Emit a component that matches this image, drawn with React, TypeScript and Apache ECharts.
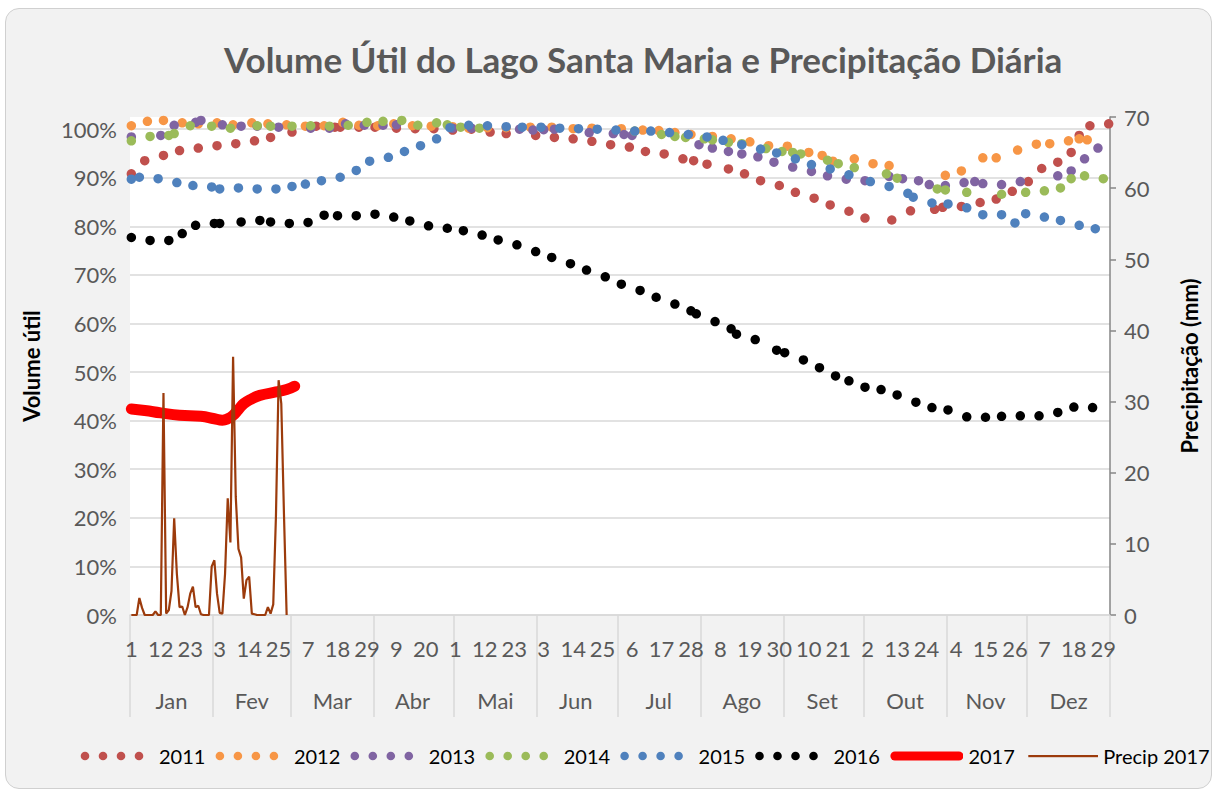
import React, { useEffect, useRef } from "react";
import * as echarts from "echarts";

const MONTHS = ["Jan", "Fev", "Mar", "Abr", "Mai", "Jun", "Jul", "Ago", "Set", "Out", "Nov", "Dez"];
const MONTH_DAYS = [31, 29, 31, 30, 31, 30, 31, 31, 30, 31, 30, 31];

// [day index (0 = 1 Jan), volume %]
const v2011: [number, number][] = [
  [0, 90.8], [5, 93.5], [12, 94.6], [18, 95.6], [25, 96.1], [32, 96.6], [39, 97.0], [46, 97.6], [52, 98.3],
  [60, 99.4], [69, 100.6], [76, 100.4], [78, 100.4], [85, 100.4], [91, 100.4], [99, 100.2], [106, 100.1],
  [113, 100.1], [120, 99.8], [127, 100.0], [134, 99.4], [140, 99.1], [151, 98.7], [158, 98.3], [165, 98.0],
  [172, 97.5], [179, 96.8], [186, 96.3], [192, 95.4], [199, 94.9], [206, 93.9], [210, 93.5], [215, 92.8],
  [223, 91.8], [229, 90.8], [235, 89.4], [242, 88.4], [248, 87.0], [255, 85.8], [261, 84.4], [268, 83.1],
  [274, 81.7], [284, 81.3], [291, 83.2], [300, 83.5], [303, 83.9], [310, 84.1], [317, 84.9], [323, 85.6],
  [329, 87.2], [335, 89.2], [340, 91.9], [346, 93.2], [351, 95.2], [354, 98.7], [358, 100.7], [365, 101.1],
];
const v2012: [number, number][] = [
  [0, 100.7], [6, 101.6], [12, 101.8], [19, 101.3], [25, 101.1], [32, 101.3], [38, 100.9], [45, 101.3],
  [51, 101.1], [58, 100.9], [65, 100.6], [72, 100.7], [79, 101.4], [85, 100.8], [92, 100.7], [98, 101.1],
  [105, 100.7], [112, 100.6], [120, 100.5], [126, 100.2], [133, 100.3], [140, 100.3], [149, 100.4],
  [157, 100.4], [165, 100.1], [172, 100.2], [183, 100.1], [191, 99.8], [197, 99.7], [203, 99.3], [209, 98.9],
  [217, 98.5], [224, 98.0], [231, 97.4], [238, 96.6], [245, 96.5], [253, 95.2], [258, 94.6], [262, 93.4],
  [270, 93.9], [277, 92.9], [283, 92.5], [304, 90.5], [310, 91.4], [318, 94.1], [323, 94.1], [331, 95.7],
  [338, 96.9], [343, 97.0], [350, 97.6], [354, 98.0], [357, 97.8],
];
const v2013: [number, number][] = [
  [0, 98.4], [11, 98.7], [16, 100.8], [24, 101.4], [26, 101.8], [34, 100.9], [41, 100.6], [47, 100.6],
  [55, 100.4], [67, 100.2], [74, 100.2], [80, 101.1], [87, 100.8], [94, 100.8], [99, 100.9], [120, 100.2],
  [127, 100.2], [145, 100.0], [150, 99.8], [154, 99.9], [158, 100.0], [171, 99.3], [180, 99.1], [184, 98.9],
  [187, 98.7], [212, 96.8], [217, 96.1], [223, 95.4], [228, 94.9], [234, 94.3], [240, 93.2], [247, 92.2],
  [254, 91.3], [260, 90.4], [267, 89.7], [274, 89.4], [283, 90.3], [288, 89.8], [294, 89.4], [298, 88.6],
  [304, 88.4], [311, 89.0], [315, 89.2], [318, 88.8], [325, 88.6], [332, 89.2], [346, 90.4], [351, 91.4],
  [356, 93.9], [361, 96.1],
];
const v2014: [number, number][] = [
  [0, 97.6], [7, 98.5], [14, 98.7], [16, 99.1], [22, 100.7], [30, 100.6], [37, 100.2], [47, 100.7],
  [52, 100.6], [60, 100.6], [67, 100.7], [74, 100.6], [81, 100.8], [88, 101.4], [94, 101.6], [101, 101.8],
  [107, 100.8], [114, 101.3], [118, 100.9], [123, 100.4], [130, 100.2], [188, 99.6], [198, 98.9], [203, 98.5],
  [207, 98.3], [214, 98.0], [217, 97.8], [223, 97.3], [228, 97.0], [237, 96.0], [243, 95.4], [247, 95.2],
  [250, 94.9], [260, 93.6], [264, 92.9], [270, 92.1], [282, 90.8], [286, 89.9], [301, 87.7], [304, 87.5],
  [312, 87.0], [325, 86.6], [334, 87.0], [341, 87.3], [347, 87.9], [351, 89.8], [356, 90.4], [363, 89.8],
];
const v2015: [number, number][] = [
  [0, 89.7], [3, 90.1], [10, 89.8], [17, 89.0], [23, 88.4], [30, 88.1], [33, 87.7], [40, 87.9], [47, 87.7],
  [54, 87.7], [60, 88.2], [65, 88.7], [71, 89.4], [78, 90.1], [84, 91.5], [89, 93.4], [96, 94.2], [102, 95.4],
  [108, 96.6], [114, 98.0], [119, 100.3], [126, 100.8], [133, 100.7], [140, 100.5], [146, 100.4], [153, 100.4],
  [160, 100.2], [167, 100.1], [174, 100.0], [181, 99.8], [188, 99.6], [194, 99.6], [201, 99.3], [208, 98.9],
  [215, 98.4], [221, 97.7], [228, 96.8], [235, 95.9], [241, 95.1], [248, 93.9], [254, 92.7], [261, 91.8],
  [268, 90.6], [276, 89.2], [283, 88.2], [290, 86.8], [292, 86.0], [299, 84.8], [305, 84.6], [312, 83.8],
  [318, 82.4], [325, 82.4], [330, 80.7], [334, 82.6], [341, 81.9], [347, 81.2], [354, 80.2], [360, 79.5],
];
const v2016: [number, number][] = [
  [0, 77.7], [7, 77.1], [14, 77.1], [19, 78.5], [24, 80.2], [31, 80.6], [33, 80.6], [41, 80.9], [48, 81.2],
  [52, 80.9], [59, 80.6], [66, 80.8], [72, 82.3], [77, 82.2], [84, 82.2], [91, 82.5], [98, 81.9], [104, 81.1],
  [111, 80.1], [118, 79.6], [124, 79.1], [131, 78.2], [137, 77.2], [144, 76.2], [151, 74.8], [157, 73.6],
  [164, 72.3], [170, 71.0], [177, 69.6], [183, 68.1], [190, 66.8], [196, 65.4], [203, 64.0], [209, 62.6],
  [211, 62.0], [218, 60.4], [224, 58.9], [226, 57.8], [233, 56.7], [241, 54.5], [244, 54.0], [251, 52.5],
  [257, 50.9], [263, 49.2], [268, 48.2], [274, 46.9], [280, 46.4], [286, 45.3], [293, 43.8], [299, 42.7],
  [305, 42.2], [312, 40.8], [319, 40.7], [325, 40.9], [332, 41.0], [339, 41.0], [346, 41.7], [352, 42.8],
  [359, 42.7],
];
const v2017: [number, number][] = [
  [0, 42.4], [5, 42.1], [11, 41.6], [18, 41.1], [26, 40.9], [31, 40.4], [34, 40.1], [36, 40.4], [38, 41.1],
  [40, 42.3], [42, 43.5], [45, 44.5], [48, 45.2], [54, 45.9], [58, 46.4], [61, 47.1],
];
// daily precipitation 2017 (mm), from 1 Jan
const precip2017: number[] = [
  0, 0, 0, 2.4, 1.0, 0, 0, 0, 0, 0.5, 0, 0, 31.2, 0.2, 0.7, 3.4, 13.6, 5.8, 1.1, 1.2,
  0, 1.1, 3.0, 4.0, 1.1, 1.3, 0.1, 0, 0, 0, 6.8, 7.7, 3.0, 0.3, 0.2, 5.8, 16.4, 10.2, 36.3, 16.6,
  9.3, 8.1, 2.3, 4.9, 5.4, 0.2, 0.1, 0, 0, 0, 0, 1.1, 0.2, 1.5, 13.8, 33.0, 29.7, 14.2, 0,
];

const LEFT_TICKS_MAX = 102.5;
const RIGHT_MAX = 70;

const COLORS = {
  y2011: "#C0504D",
  y2012: "#F79646",
  y2013: "#8064A2",
  y2014: "#9BBB59",
  y2015: "#4F81BD",
  y2016: "#000000",
  y2017: "#FF0000",
  precip: "#9C3B0C",
};

const dayLabels: string[] = [];
const monthStart = new Set<number>();
const monthMid = new Map<number, string>();
{
  let idx = 0;
  MONTH_DAYS.forEach((n, m) => {
    monthStart.add(idx);
    monthMid.set(idx + Math.floor((n - 1) / 2), MONTHS[m]);
    for (let d = 1; d <= n; d++) dayLabels.push(String(d));
    idx += n;
  });
}

function svgIcon(inner: string): string {
  const svg = `<svg xmlns='http://www.w3.org/2000/svg' width='76' height='12' viewBox='0 0 76 12'>${inner}</svg>`;
  return "image://data:image/svg+xml;charset=utf-8," + encodeURIComponent(svg);
}
function dotsIcon(color: string): string {
  return svgIcon([7, 25, 43, 61].map((cx) => `<circle cx='${cx}' cy='6' r='4.3' fill='${color}'/>`).join(""));
}

export default function App() {
  const ref = useRef<HTMLDivElement>(null);
  useEffect(() => {
    if (!ref.current) return;
    const chart = echarts.init(ref.current, undefined, { renderer: "svg" });
    const font = "Lato";
    const scatter = (name: string, data: [number, number][], color: string) => ({
      name,
      type: "scatter",
      xAxisIndex: 0,
      yAxisIndex: 0,
      data,
      symbol: "circle",
      symbolSize: 9.5,
      itemStyle: { color, opacity: 1 },
      silent: true,
    });
    chart.setOption({
      animation: false,
      textStyle: { fontFamily: font },
      title: {
        text: "Volume Útil do Lago Santa Maria e Precipitação Diária",
        left: 219,
        top: 36,
        textStyle: { fontFamily: font, fontSize: 35, fontWeight: "bold", color: "#595959" },
      },
      grid: {
        left: 130,
        right: 106,
        top: 117,
        bottom: 178,
        show: true,
        backgroundColor: "#ffffff",
        borderWidth: 0,
        containLabel: false,
        outerBoundsMode: "none",
      },
      legend: {
        left: 73,
        top: 741,
        itemWidth: 76,
        itemHeight: 12,
        itemGap: 7.5,
        selectedMode: false,
        textStyle: { fontFamily: font, fontSize: 20, color: "#000000" },
        data: [
          { name: "2011", icon: dotsIcon(COLORS.y2011) },
          { name: "2012", icon: dotsIcon(COLORS.y2012) },
          { name: "2013", icon: dotsIcon(COLORS.y2013) },
          { name: "2014", icon: dotsIcon(COLORS.y2014) },
          { name: "2015", icon: dotsIcon(COLORS.y2015) },
          { name: "2016", icon: dotsIcon(COLORS.y2016) },
          { name: "2017", icon: svgIcon(`<rect x='3' y='1.5' width='73' height='9' rx='4.5' fill='${COLORS.y2017}'/>`) },
          { name: "Precip 2017", icon: svgIcon(`<rect x='6' y='5' width='70' height='2.2' fill='${COLORS.precip}'/>`) },
        ],
      },
      xAxis: [
        {
          type: "category",
          data: dayLabels,
          position: "bottom",
          boundaryGap: true,
          axisLine: { show: true, onZero: false, lineStyle: { color: "#d9d9d9", width: 1.5 } },
          axisTick: { show: false },
          axisLabel: { interval: 10, margin: 22, fontSize: 22, color: "#595959", fontFamily: font },
          splitLine: { show: false },
        },
        {
          type: "category",
          data: dayLabels,
          position: "bottom",
          boundaryGap: true,
          axisLine: { show: false, onZero: false },
          axisTick: {
            show: true,
            interval: (i: number) => monthStart.has(i),
            length: 102,
            lineStyle: { color: "#d9d9d9", width: 1.5 },
          },
          axisLabel: {
            interval: (i: number) => monthMid.has(i),
            formatter: (_v: string, i: number) => monthMid.get(i) || "",
            margin: 74,
            fontSize: 22,
            color: "#595959",
            fontFamily: font,
          },
          splitLine: { show: false },
        },
      ],
      yAxis: [
        {
          type: "value",
          min: 0,
          max: LEFT_TICKS_MAX,
          interval: 10,
          position: "left",
          name: "Volume útil",
          nameLocation: "middle",
          nameRotate: 90,
          nameGap: 88,
          nameTextStyle: { fontFamily: font, fontSize: 22, fontWeight: "bold", color: "#000000" },
          axisLine: { show: false },
          axisTick: { show: false },
          axisLabel: {
            margin: 13,
            fontSize: 22,
            color: "#595959",
            fontFamily: font,
            formatter: (v: number) => (v > 100.01 ? "" : `${Math.round(v)}%`),
          },
          splitLine: { show: true, showMaxLine: false, lineStyle: { color: "#d9d9d9", width: 1.5 } },
        },
        {
          type: "value",
          min: 0,
          max: RIGHT_MAX,
          interval: 10,
          position: "right",
          name: "Precipitação (mm)",
          nameLocation: "middle",
          nameRotate: 90,
          nameGap: 68,
          nameTextStyle: { fontFamily: font, fontSize: 22, fontWeight: "bold", color: "#000000" },
          axisLine: { show: true, lineStyle: { color: "#868686", width: 1.5 } },
          axisTick: { show: true, length: 6, lineStyle: { color: "#868686", width: 1.5 } },
          axisLabel: { margin: 14, fontSize: 22, color: "#595959", fontFamily: font },
          splitLine: { show: false },
        },
      ],
      series: [
        scatter("2011", v2011, COLORS.y2011),
        scatter("2012", v2012, COLORS.y2012),
        scatter("2013", v2013, COLORS.y2013),
        scatter("2014", v2014, COLORS.y2014),
        scatter("2015", v2015, COLORS.y2015),
        scatter("2016", v2016, COLORS.y2016),
        {
          name: "2017",
          type: "line",
          xAxisIndex: 0,
          yAxisIndex: 0,
          data: v2017,
          smooth: true,
          showSymbol: false,
          symbol: "none",
          lineStyle: { color: COLORS.y2017, width: 11, cap: "round", join: "round" },
          itemStyle: { color: COLORS.y2017 },
          silent: true,
        },
        {
          name: "Precip 2017",
          type: "line",
          xAxisIndex: 0,
          yAxisIndex: 1,
          data: precip2017.map((v, i) => [i, v]),
          showSymbol: false,
          symbol: "none",
          lineStyle: { color: COLORS.precip, width: 2.2 },
          itemStyle: { color: COLORS.precip },
          silent: true,
          z: 3,
        },
      ],
    });
    return () => chart.dispose();
  }, []);

  return (
    <div style={{ position: "fixed", left: 0, top: 0, width: 1216, height: 793, background: "#ffffff" }}>
      <div
        style={{
          position: "absolute",
          left: 5,
          top: 8,
          width: 1205,
          height: 779,
          border: "1px solid #d0d0d0",
          borderRadius: 14,
          background: "#f2f2f2",
        }}
      />
      <div ref={ref} style={{ position: "absolute", left: 0, top: 0, width: 1216, height: 793 }} />
    </div>
  );
}
